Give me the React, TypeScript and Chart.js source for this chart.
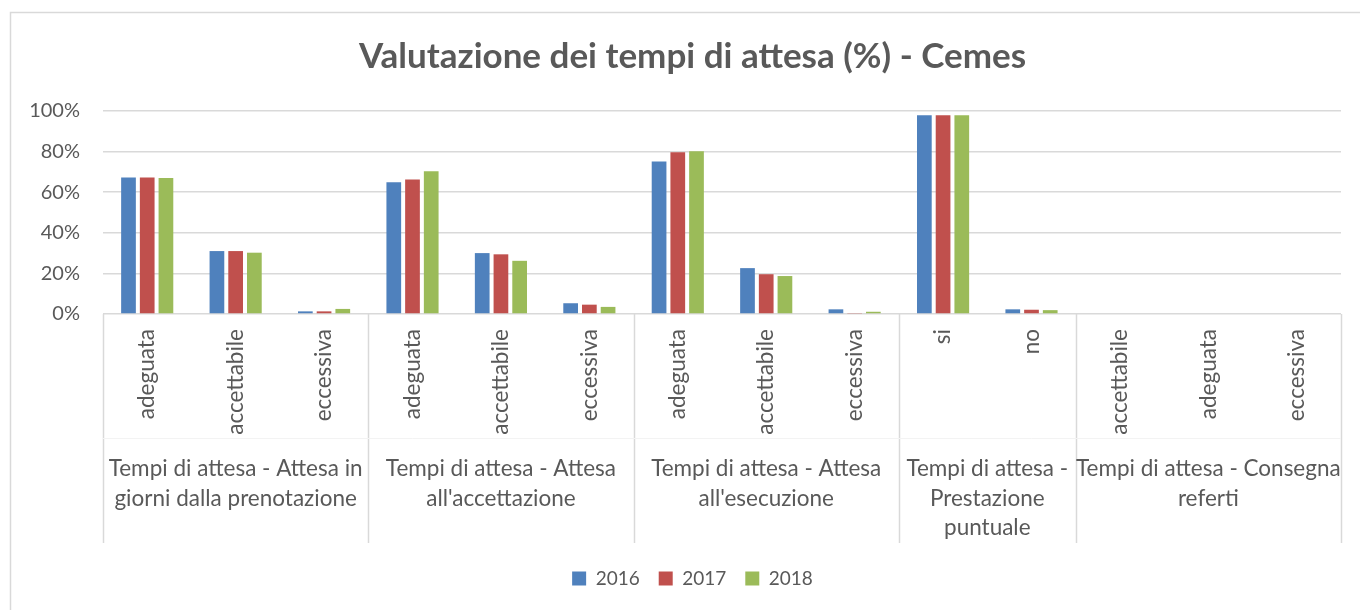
import React, { useEffect, useRef } from "react";
import { Chart, registerables } from "chart.js";

Chart.register(...registerables);

const categories = [
  "adeguata", "accettabile", "eccessiva",
  "adeguata", "accettabile", "eccessiva",
  "adeguata", "accettabile", "eccessiva",
  "si", "no",
  "accettabile", "adeguata", "eccessiva",
];

const groupSizes = [3, 3, 3, 2, 3];
const groupLabels = [
  ["Tempi di attesa - Attesa in", "giorni dalla prenotazione"],
  ["Tempi di attesa - Attesa", "all'accettazione"],
  ["Tempi di attesa - Attesa", "all'esecuzione"],
  ["Tempi di attesa -", "Prestazione", "puntuale"],
  ["Tempi di attesa - Consegna", "referti"],
];

const values2016 = [67.3, 31.0, 1.3, 64.9, 30.0, 5.3, 75.1, 22.6, 2.3, 97.9, 2.3, 0, 0, 0];
const values2017 = [67.3, 31.0, 1.3, 66.2, 29.4, 4.6, 79.7, 19.6, 0.5, 97.9, 2.1, 0, 0, 0];
const values2018 = [67.0, 30.2, 2.5, 70.3, 26.2, 3.5, 80.2, 18.7, 1.1, 97.9, 1.9, 0, 0, 0];

const seriesNames = ["2016", "2017", "2018"];
const seriesColors = ["#4F81BD", "#C0504D", "#9BBB59"];

const yTicks = [0, 20, 40, 60, 80, 100];

const TEXT = "#595959";
const LINE = "#d9d9d9";
const FONT = "Lato";

const frameAndGroups = {
  id: "frameAndGroups",
  beforeDraw(chart: any) {
    const { ctx, width, height } = chart;
    ctx.save();
    ctx.fillStyle = "#ffffff";
    ctx.fillRect(0, 0, width, height);
    ctx.strokeStyle = LINE;
    ctx.lineWidth = 1.5;
    ctx.beginPath();
    ctx.moveTo(10.5, height);
    ctx.lineTo(10.5, 12.5);
    ctx.lineTo(width, 12.5);
    ctx.stroke();
    ctx.restore();
  },
  afterDraw(chart: any) {
    const { ctx, chartArea } = chart;
    const x = chart.scales.x;
    const n = categories.length;
    const bounds: number[] = [0];
    groupSizes.forEach((s) => bounds.push(bounds[bounds.length - 1] + s));
    const px = (b: number) => {
      if (b <= 0) return x.left;
      if (b >= n) return x.right;
      return (x.getPixelForValue(b - 1) + x.getPixelForValue(b)) / 2;
    };
    const top = chartArea.bottom;
    const bottom = top + 229;
    ctx.save();
    ctx.strokeStyle = LINE;
    ctx.lineWidth = 1.5;
    bounds.forEach((b) => {
      const p = Math.round(px(b)) + 0.5;
      ctx.beginPath();
      ctx.moveTo(p, top);
      ctx.lineTo(p, bottom);
      ctx.stroke();
    });
    ctx.strokeStyle = "#f3f3f3";
    ctx.lineWidth = 1;
    ctx.beginPath();
    ctx.moveTo(x.left, top + 124.5);
    ctx.lineTo(x.right, top + 124.5);
    ctx.stroke();
    ctx.fillStyle = TEXT;
    ctx.font = `22.5px ${FONT}`;
    ctx.textAlign = "center";
    ctx.textBaseline = "middle";
    groupLabels.forEach((lines, i) => {
      const cx = (px(bounds[i]) + px(bounds[i + 1])) / 2;
      lines.forEach((line, j) => {
        ctx.fillText(line, cx, top + 155 + j * 29.5);
      });
    });
    ctx.restore();
  },
};

export default function App() {
  const ref = useRef<HTMLCanvasElement | null>(null);
  useEffect(() => {
    if (!ref.current) return;
    const chart = new Chart(ref.current, {
      type: "bar",
      data: {
        labels: categories,
        datasets: [values2016, values2017, values2018].map((d, i) => ({
          label: seriesNames[i],
          data: d,
          backgroundColor: seriesColors[i],
          borderWidth: 0,
          categoryPercentage: 0.635,
          barPercentage: 0.786,
        })),
      },
      options: {
        responsive: false,
        animation: false,
        layout: { padding: { left: 25, right: 0, top: 0, bottom: 12 } },
        plugins: {
          title: {
            display: true,
            text: "Valutazione dei tempi di attesa (%) - Cemes",
            color: TEXT,
            font: { family: FONT, size: 35, weight: "bold", lineHeight: 1.2 },
            padding: { top: 36, bottom: 33 },
          },
          legend: {
            position: "bottom",
            labels: {
              color: TEXT,
              font: { family: FONT, size: 19 },
              boxWidth: 14,
              boxHeight: 14,
              padding: 19,
            },
          },
          tooltip: { enabled: false },
        },
        scales: {
          x: {
            grid: { display: false, drawTicks: false },
            border: { display: false },
            ticks: {
              color: TEXT,
              font: { family: FONT, size: 22.5 },
              minRotation: 90,
              maxRotation: 90,
              autoSkip: false,
              padding: 15,
            },
            afterFit: (scale: any) => {
              scale.height = 236;
            },
          },
          y: {
            min: 0,
            max: 100,
            afterBuildTicks: (scale: any) => {
              scale.ticks = yTicks.map((v) => ({ value: v }));
            },
            grid: { color: LINE, lineWidth: 1.5, drawTicks: false },
            border: { display: false },
            ticks: {
              color: TEXT,
              font: { family: FONT, size: 20 },
              padding: 23,
              callback: (v: any) => `${v}%`,
            },
            afterFit: (scale: any) => {
              scale.width = 78;
            },
          },
          yRight: {
            type: "linear",
            position: "right",
            min: 0,
            max: 100,
            grid: { display: false, drawOnChartArea: false, drawTicks: false },
            border: { display: false },
            ticks: { display: false },
            afterFit: (scale: any) => {
              scale.width = 19;
            },
          },
        },
      },
      plugins: [frameAndGroups],
    });
    return () => chart.destroy();
  }, []);
  return (
    <div style={{ position: "fixed", left: 0, top: 0, width: 1360, height: 610, background: "#fff" }}>
      <canvas ref={ref} width={1360} height={610} />
    </div>
  );
}
